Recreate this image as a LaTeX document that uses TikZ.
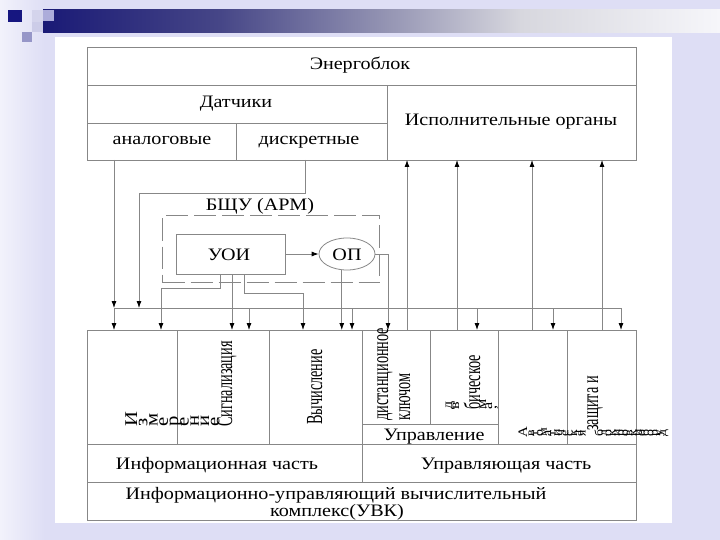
\documentclass[tikz,border=0pt]{standalone}
\usepackage{fontspec}
\setmainfont{Liberation Serif}[FakeStretch=1.15]
\newfontfamily\rotfont{Liberation Serif}[FakeStretch=0.62]
\usetikzlibrary{arrows.meta,shapes.geometric,calc}
\definecolor{bgl}{RGB}{222,222,245}
\definecolor{bgw}{RGB}{242,242,251}
\definecolor{ln}{RGB}{135,135,135}
\definecolor{barA}{RGB}{26,26,118}
\definecolor{barB}{RGB}{70,70,135}
\definecolor{barC}{RGB}{150,150,180}
\definecolor{barD}{RGB}{215,215,222}
\definecolor{barE}{RGB}{246,246,250}
\definecolor{sqA}{RGB}{22,22,128}
\definecolor{sqB}{RGB}{212,212,236}
\definecolor{sqC}{RGB}{172,172,218}
\definecolor{sqD}{RGB}{150,150,200}
\newcommand\myhf{\fontsize{17.5}{17}\selectfont}
\begin{document}
\begin{tikzpicture}[x=1pt,y=-1pt,
 cell/.style={draw=ln,line width=0.8pt,inner sep=0pt,outer sep=0pt,anchor=north west},
 lbl/.style={inner sep=0pt,font=\myhf,anchor=base},
 wire/.style={draw=ln,line width=0.8pt},
 arr/.style={wire,-{Latex[length=7pt,width=5pt,color=black]}},
 rtx/.style={rotate=90,anchor=base west,inner sep=0pt,font=\rotfont\fontsize{23}{23}\selectfont},
 rts/.style={rotate=90,anchor=base west,inner sep=0pt,font=\fontsize{#1}{#1}\selectfont},
]
\useasboundingbox (0,0) rectangle (720,540);
% background
\fill[bgl] (0,0) rectangle (720,540);
\shade[left color=bgw, right color=bgl] (0,0) rectangle (45,540);
\shade[left color=barA, right color=barB] (43,10) rectangle (220,33);
\shade[left color=barB, right color=barC] (220,10) rectangle (390,33);
\shade[left color=barC, right color=barD] (390,10) rectangle (520,33);
\shade[left color=barD, right color=barE] (520,10) rectangle (720,33);
\fill[sqA] (8,10) rectangle (22,22);
\fill[sqB] (32,10) rectangle (43,22);
\fill[sqC] (43,10) rectangle (54,21);
\fill[sqB!80!sqC] (32,22) rectangle (43,32);
\fill[sqD] (22,32) rectangle (32,42);
\fill[white] (55,37) rectangle (672,523);

% top block
\node[cell, minimum width=549pt, minimum height=38pt] (energo) at (87,47) {};
\node[cell, minimum width=300pt, minimum height=38pt] (datch) at (87,85) {};
\node[cell, minimum width=149pt, minimum height=37pt] (analog) at (87,123) {};
\node[cell, minimum width=151pt, minimum height=37pt] (discr) at (236,123) {};
\node[cell, minimum width=249pt, minimum height=75pt] (isp) at (387,85) {};
\node[lbl] (energot) at (360,70) {Энергоблок};
\node[lbl] (datcht) at (236,108) {Датчики};
\node[lbl] (analogt) at (162,145) {аналоговые};
\node[lbl] (discrt) at (309,145) {дискретные};
\node[lbl] (ispt) at (511,126) {Исполнительные органы};

% BSCU
\node[draw=ln, line width=1pt, dash pattern=on 22pt off 6pt, minimum width=217pt,
      minimum height=67pt, anchor=north west, inner sep=0pt] (bcu) at (162,215) {};
\node[lbl] (bcut) at (260,211) {БЩУ (АРМ)};
\node[cell, minimum width=109pt, minimum height=40pt] (uoi) at (176,234) {};
\node[lbl] (uoit) at (229,260) {УОИ};
\node[draw=ln, line width=0.8pt, ellipse, minimum width=56pt, minimum height=32pt,
      inner sep=0pt] (op) at (347,254) {};
\node[lbl] (opt) at (347,260) {ОП};

% bottom block
\node[cell, minimum width=90pt, minimum height=114pt] (c1) at (87,330) {};
\node[cell, minimum width=92pt, minimum height=114pt] (c2) at (177,330) {};
\node[cell, minimum width=93pt, minimum height=114pt] (c3) at (269,330) {};
\node[cell, minimum width=68pt, minimum height=94pt] (c4) at (362,330) {};
\node[cell, minimum width=68pt, minimum height=94pt] (c5) at (430,330) {};
\node[cell, minimum width=136pt, minimum height=20pt] (upr) at (362,424) {};
\node[cell, minimum width=69pt, minimum height=114pt] (c6) at (498,330) {};
\node[cell, minimum width=69pt, minimum height=114pt] (c7) at (567,330) {};
\node[cell, minimum width=275pt, minimum height=38pt] (infp) at (87,444) {};
\node[cell, minimum width=274pt, minimum height=38pt] (ctrlp) at (362,444) {};
\node[cell, minimum width=549pt, minimum height=38pt] (uvk) at (87,482) {};
\node[lbl] (uprt) at (434,440) {Управление};
\node[lbl] (infpt) at (217,469) {Информационная часть};
\node[lbl] (ctrlpt) at (506,469) {Управляющая часть};
\node[lbl] (uvkt1) at (336,499) {Информационно-управляющий вычислительный};
\node[lbl] (uvkt2) at (337,516) {комплекс(УВК)};

% rotated texts
\foreach \c [count=\i from 0] in {И,з,м,е,р,е,н,и,е}
  \node[rts=18] (ms\i) at ({137+10.3*\i},427) {\c};
\node[rtx] (sig) at (232,427) {Сигнализация};
\node[rtx] (vych) at (322,425) {Вычисление};
\node[rtx] (dist) at (388,421) {дистанционное};
\node[rtx] (klu) at (410,421) {ключом};
\node[rts=14] (l1) at (452,410) {д};
\node[rts=14] (l2) at (459,410) {в};
\node[rtx] (l3) at (480,410) {бическое};
\node[rts=14] (l4) at (486,410) {м};
\node[rts=14] (l5) at (492,410) {а};
\node[rts=14] (l6) at (496,410) {,};
\node[rts=13] (aa) at (527,438) {А};
\foreach \c [count=\i from 0] in {в,т,о,м,а,т,и,ч,е,с,к,а,я}
  \node[rts=12] (as\i) at ({534+4.3*\i},437) {\c};
\node[rtx] (zash) at (598,431) {защита и};
\foreach \c [count=\i from 0] in {б,л,о,к,и,р,о,в,к,и,о,б,о,р,у,д}
  \node[rts=12] (bs\i) at ({603+4.2*\i},437) {\c};

% connectors
\coordinate (bA) at (114,308);
\coordinate (bB) at (139,308);
\coordinate (bZ) at (621,308);
\draw[wire] (bA) -- (bZ);
\draw[arr] ([xshift=27pt]analog.south west) -- (bA);
\draw[arr] ([xshift=69pt]discr.south west) -- ++(0,33) -| (bB);
\foreach \x in {114,249,352,477,553,621}
  \draw[arr] (\x,308) -- (\x,330);
\draw[arr] ([xshift=44pt]uoi.south west) -- ++(0,14) -| (161,330);
\draw[arr] ([xshift=56pt]uoi.south west) -- (232,330);
\draw[arr] ([xshift=68pt]uoi.south west) -- ++(0,19) -| (303,330);
\draw[arr] (uoi.east) -- (op.west);
\draw[arr] (op.-108) -- (op.-108 |- c3.north);
\draw[arr] (op.east) -| ([xshift=26pt]c4.north west);
\foreach \x in {407,457,532,602}
  \draw[arr] (\x,330) -- (\x,160);
\end{tikzpicture}
\end{document}
